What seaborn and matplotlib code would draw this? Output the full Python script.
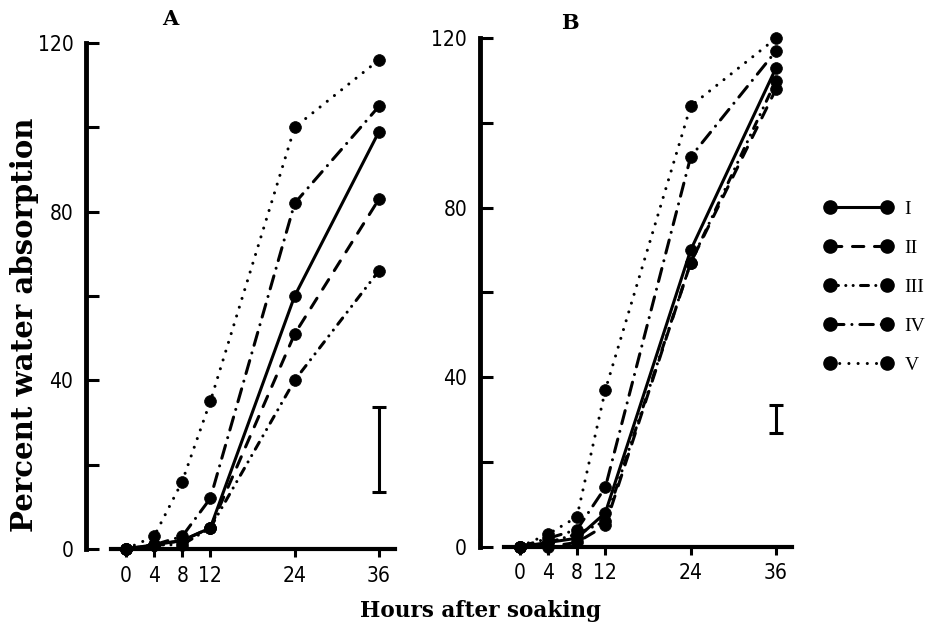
import numpy as np
import pandas as pd
import matplotlib
matplotlib.use("Agg")
import matplotlib.pyplot as plt
from matplotlib.lines import Line2D
import seaborn as sns

# x values (hours after soaking) and treatment groups
hours = [0, 4, 8, 12, 24, 36]
groups = ["I", "II", "III", "IV", "V"]

# panel A: percent water absorption
a_I = [0, 1, 2, 5, 60, 99]
a_II = [0, 1, 2, 5, 51, 83]
a_III = [0, 1, 1, 5, 40, 66]
a_IV = [0, 1, 3, 12, 82, 105]
a_V = [0, 3, 16, 35, 100, 116]

# panel B: percent water absorption
b_I = [0, 1, 2, 8, 70, 113]
b_II = [0, 0, 1, 5, 67, 108]
b_III = [0, 1, 3, 6, 67, 110]
b_IV = [0, 2, 4, 14, 92, 117]
b_V = [0, 3, 7, 37, 104, 120]

# error bar (centre, half range) drawn at 36 h
err_hour = 36
a_err = [23.6, 10.1]
b_err = [30.1, 3.3]

y_major = [0, 40, 80, 120]
y_minor = [20, 60, 100]

# long-form table for seaborn
rows = []
for panel, series in [("A", [a_I, a_II, a_III, a_IV, a_V]),
                      ("B", [b_I, b_II, b_III, b_IV, b_V])]:
    for g, vals in zip(groups, series):
        for h, v in zip(hours, vals):
            rows.append((panel, g, h, v))
df = pd.DataFrame(rows, columns=["panel", "group", "hours", "absorption"])

sns.set_style("ticks")
plt.rcParams["font.family"] = ["DejaVu Sans"]
plt.rcParams["font.stretch"] = "condensed"
for key in ["text.color", "axes.labelcolor", "xtick.color", "ytick.color",
            "axes.edgecolor"]:
    plt.rcParams[key] = "black"

dash_map = {"I": "", "II": (3.7, 3.5), "III": (2.6, 2.4, 0.01, 2.4, 0.01, 2.4),
            "IV": (4.4, 2.6, 0.01, 2.6), "V": (0.01, 3.0)}
marker_map = {g: "o" for g in groups}

fig = plt.figure(figsize=(9.27, 6.32), dpi=100)
ax_a = fig.add_axes([85.9 / 927, 0.1113, 314.2 / 927, 0.8340])
ax_b = fig.add_axes([479.5 / 927, 0.1149, 317.8 / 927, 0.8379])

for ax, panel, err in [(ax_a, "A", a_err), (ax_b, "B", b_err)]:
    sns.lineplot(data=df[df["panel"] == panel], x="hours", y="absorption",
                 style="group", style_order=groups, dashes=dash_map,
                 markers=marker_map, color="black", estimator=None, sort=False,
                 linewidth=2.2, markersize=8.5, markeredgecolor="black",
                 markeredgewidth=0.5, dash_capstyle="round", legend=False, ax=ax)
    ax.errorbar([err_hour], [err[0]], yerr=[err[1]], color="black", lw=2.2,
                capsize=5, capthick=2.2)

    ax.set_xlim(-5.7, 39)
    ax.set_ylim(-3, 122)
    ax.spines[["top", "right"]].set_visible(False)
    ax.spines["bottom"].set_position(("data", 0))
    ax.spines["bottom"].set_bounds(-2.2, 38.3)
    ax.spines["left"].set_bounds(0, 120)
    ax.spines["left"].set_linewidth(3.5)
    ax.spines["bottom"].set_linewidth(3)
    ax.set_xticks(hours)
    ax.set_yticks(y_major)
    ax.set_yticks(y_minor, minor=True)
    ax.tick_params(axis="y", which="both", direction="in", length=9, width=2.2,
                   pad=9, labelsize=15)
    ax.tick_params(axis="x", direction="out", length=6, width=2.2, pad=6,
                   labelsize=15)
    ax.set_xlabel("")
    ax.set_ylabel("")

# legend with a marker on both ends of each line
handles = []
for g in groups:
    ls = "-" if dash_map[g] == "" else (0, dash_map[g])
    handles.append(Line2D([], [], color="black", lw=2.2, linestyle=ls, marker="o",
                          ms=9.5, dash_capstyle="round"))
fig.legend(handles, groups, loc="upper left",
           bbox_to_anchor=(824 / 927, 1 - 200 / 632), frameon=False, numpoints=2,
           handlelength=3.54, handletextpad=0.6, labelspacing=1.1,
           borderaxespad=0, borderpad=0,
           prop=dict(family="Liberation Serif", size=14, stretch="normal"))

serif = dict(family="DejaVu Serif", weight="bold", fontstretch="normal")
fig.text(170 / 927, 1 - 19 / 632, "A", ha="center", va="center", size=15, **serif)
fig.text(570 / 927, 1 - 23 / 632, "B", ha="center", va="center", size=15, **serif)
fig.text(481 / 927, 1 - 611 / 632, "Hours after soaking", ha="center",
         va="center", size=15.5, **serif)
fig.text(25 / 927, 1 - 325 / 632, "Percent water absorption", rotation=90,
         ha="center", va="center", size=21, **serif)

fig.savefig("out.png", dpi=100)
